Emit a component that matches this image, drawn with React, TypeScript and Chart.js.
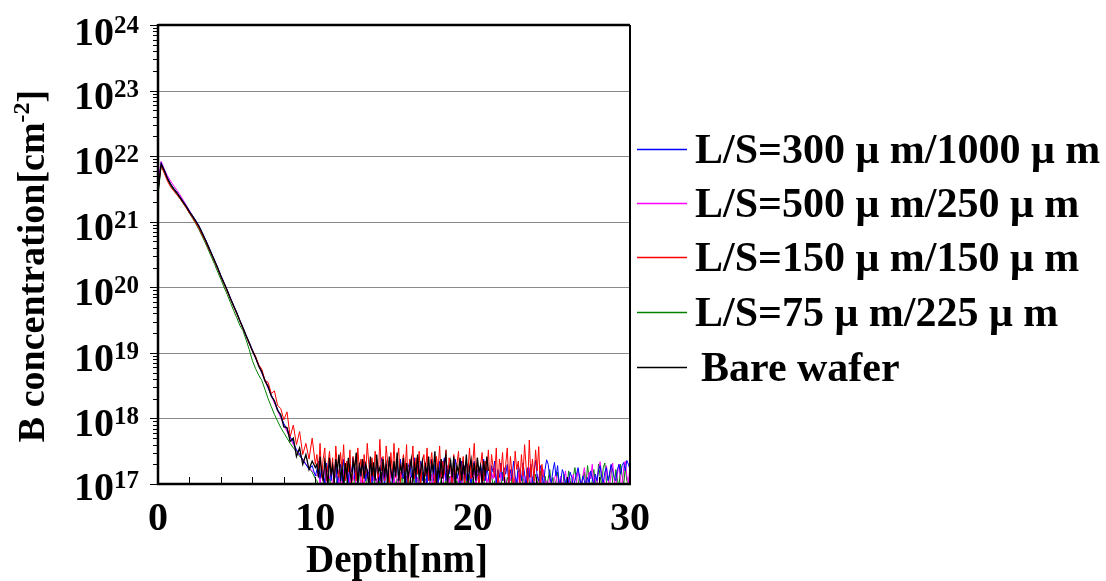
import React, { useEffect, useRef } from 'react';
import { Chart, registerables } from 'chart.js';

Chart.register(...registerables);

// Depth samples (nm): profile part every 0.2 nm up to 10 nm, then every 0.1 nm to 30 nm
const depthHeadNm: number[] = Array.from({ length: 51 }, (_, i) => i / 5);
const depthTailNm: number[] = Array.from({ length: 200 }, (_, i) => (101 + i) / 10);
const depthNm: number[] = [...depthHeadNm, ...depthTailNm];

// log10 of B concentration (profile part, 0–10 nm)
const ls300x1000Head: number[] = [
  21.48, 21.90, 21.79, 21.67, 21.58, 21.51, 21.45, 21.38, 21.31, 21.24,
  21.16, 21.09, 21.02, 20.94, 20.84, 20.74, 20.63, 20.52, 20.41, 20.30,
  20.18, 20.07, 19.96, 19.84, 19.73, 19.62, 19.50, 19.39, 19.27, 19.16,
  19.05, 18.93, 18.82, 18.70, 18.59, 18.47, 18.36, 18.26, 18.14, 18.04,
  17.92, 17.84, 17.72, 17.64, 17.52, 17.46, 17.36, 17.30, 17.22, 17.28,
  17.12,
];
const ls500x250Head: number[] = [
  21.62, 21.92, 21.80, 21.70, 21.62, 21.55, 21.48, 21.41, 21.33, 21.25,
  21.17, 21.09, 21.01, 20.93, 20.83, 20.73, 20.62, 20.51, 20.40, 20.28,
  20.17, 20.06, 19.95, 19.83, 19.72, 19.60, 19.49, 19.37, 19.26, 19.14,
  19.03, 18.92, 18.80, 18.69, 18.57, 18.46, 18.35, 18.23, 18.12, 18.01,
  17.90, 17.80, 17.70, 17.60, 17.52, 17.44, 17.38, 17.30, 17.25, 17.20,
  17.15,
];
const ls150x150Head: number[] = [
  21.50, 21.85, 21.74, 21.62, 21.53, 21.47, 21.41, 21.35, 21.28, 21.21,
  21.13, 21.06, 20.98, 20.90, 20.80, 20.71, 20.60, 20.50, 20.39, 20.28,
  20.16, 20.05, 19.94, 19.83, 19.71, 19.60, 19.49, 19.37, 19.26, 19.14,
  19.04, 18.95, 18.82, 18.75, 18.58, 18.55, 18.38, 18.42, 18.20, 18.15,
  17.98, 18.10, 17.72, 17.90, 17.60, 17.80, 17.45, 17.62, 17.38, 17.70,
  17.30,
];
const ls75x225Head: number[] = [
  21.40, 21.86, 21.75, 21.64, 21.55, 21.48, 21.42, 21.35, 21.28, 21.21,
  21.13, 21.05, 20.97, 20.88, 20.78, 20.68, 20.57, 20.46, 20.35, 20.23,
  20.12, 20.00, 19.89, 19.77, 19.65, 19.54, 19.42, 19.34, 19.20, 19.05,
  18.88, 18.76, 18.66, 18.58, 18.44, 18.30, 18.18, 18.06, 17.96, 17.86,
  17.78, 17.70, 17.62, 17.55, 17.50, 17.42, 17.38, 17.30, 17.25, 17.18,
  17.08,
];
const bareWaferHead: number[] = [
  21.45, 21.88, 21.78, 21.66, 21.57, 21.50, 21.44, 21.37, 21.30, 21.23,
  21.15, 21.08, 21.01, 20.93, 20.83, 20.73, 20.62, 20.51, 20.40, 20.29,
  20.17, 20.06, 19.95, 19.83, 19.72, 19.61, 19.49, 19.38, 19.26, 19.15,
  19.03, 18.93, 18.80, 18.71, 18.57, 18.49, 18.34, 18.27, 18.12, 18.06,
  17.87, 17.86, 17.65, 17.70, 17.42, 17.55, 17.30, 17.45, 17.22, 17.35,
  17.25,
];

// log10 of B concentration, noise floor part (10.1 nm onward, 0.1 nm apart)
const ls300x1000Tail: number[] = [
  17.22, 17.35, 17.08, 17.28, 17.15, 17.02, 17.32, 17.18, 17.40, 17.05,
  17.25, 17.12, 17.36, 16.98, 17.20, 17.30, 17.05, 17.38, 17.15, 17.22,
  17.02, 17.30, 17.18, 17.40, 17.08, 17.25, 16.95, 17.32, 17.12, 17.28,
  17.35, 17.05, 17.22, 17.15, 17.38, 17.00, 17.28, 17.10, 17.32, 17.18,
  17.05, 17.40, 17.20, 16.98, 17.30, 17.12, 17.35, 17.22, 17.02, 17.28,
  17.15, 17.32, 17.05, 17.38, 17.20, 17.08, 17.30, 16.95, 17.25, 17.35,
  17.10, 17.22, 17.40, 17.02, 17.28, 17.15, 17.35, 17.05, 17.20, 17.32,
  16.98, 17.25, 17.12, 17.38, 17.05, 17.30, 17.18, 17.02, 17.35, 17.10,
  17.28, 17.40, 17.05, 17.22, 17.15, 17.32, 16.95, 17.25, 17.38, 17.08,
  17.20, 17.02, 17.35, 17.15, 17.28, 17.05, 17.30, 17.18, 16.98, 17.25,
  17.35, 17.10, 17.22, 17.02, 17.30, 17.15, 17.38, 17.05, 17.25, 17.12,
  16.95, 17.28, 17.18, 17.35, 17.02, 17.22, 17.10, 17.32, 17.05, 17.25,
  17.15, 17.30, 16.98, 17.22, 17.08, 17.35, 17.12, 17.02, 17.28, 17.18,
  17.05, 17.32, 17.15, 16.95, 17.25, 17.10, 17.30, 17.02, 17.20, 17.36,
  17.12, 17.05, 17.28, 17.15, 16.98, 17.22, 17.37, 17.30, 17.10, 17.02,
  17.20, 17.33, 17.12, 17.28, 16.98, 17.05, 17.22, 17.15, 16.95, 17.10,
  17.02, 17.18, 17.10, 16.95, 17.05, 17.15, 17.25, 17.08, 16.98, 17.12,
  17.05, 16.95, 17.10, 17.02, 17.20, 17.08, 16.98, 17.15, 17.05, 17.22,
  17.28, 17.10, 17.02, 17.18, 17.25, 17.05, 17.15, 17.30, 17.20, 17.10,
  17.05, 17.22, 17.30, 17.15, 17.28, 17.33, 17.20, 17.36, 17.30, 17.22,
];
const ls500x250Tail: number[] = [
  17.12, 17.25, 16.98, 17.18, 17.05, 17.28, 16.92, 17.15, 17.08, 17.22,
  16.95, 17.18, 17.10, 17.28, 17.00, 17.15, 16.92, 17.22, 17.05, 17.12,
  17.25, 16.98, 17.15, 17.05, 17.20, 16.90, 17.12, 17.28, 17.02, 17.10,
  16.95, 17.22, 17.08, 17.15, 16.92, 17.25, 17.05, 17.12, 16.98, 17.20,
  17.10, 16.95, 17.25, 17.02, 17.15, 17.08, 16.92, 17.20, 17.12, 17.00,
  17.22, 17.05, 16.95, 17.18, 17.10, 17.28, 16.98, 17.12, 17.05, 17.20,
  16.92, 17.15, 17.25, 17.02, 17.10, 16.95, 17.22, 17.08, 17.18, 16.98,
  17.12, 17.25, 17.00, 17.15, 16.92, 17.20, 17.08, 17.02, 17.25, 17.10,
  16.95, 17.18, 17.05, 17.28, 17.00, 17.12, 16.90, 17.22, 17.08, 17.15,
  17.02, 17.20, 16.95, 17.10, 17.25, 17.05, 17.15, 16.92, 17.18, 17.08,
  17.22, 16.98, 17.12, 17.05, 17.20, 16.92, 17.15, 17.28, 17.02, 17.10,
  16.95, 17.18, 17.08, 17.25, 17.00, 17.12, 16.92, 17.20, 17.05, 17.15,
  17.02, 16.92, 17.15, 17.05, 17.22, 16.95, 17.10, 17.00, 17.18, 16.92,
  17.08, 17.20, 16.95, 17.12, 17.02, 17.25, 16.92, 17.10, 17.05, 16.95,
  17.15, 17.02, 16.92, 17.10, 17.22, 16.98, 17.05, 16.92, 17.12, 17.00,
  16.95, 17.08, 17.18, 16.92, 17.02, 17.12, 16.95, 17.05, 17.20, 16.98,
  17.10, 16.92, 17.05, 17.15, 16.95, 17.02, 17.22, 17.08, 16.92, 17.12,
  17.25, 17.05, 16.95, 17.18, 17.08, 17.30, 16.98, 17.12, 17.02, 17.22,
  17.34, 17.15, 16.95, 17.05, 17.28, 17.10, 16.92, 17.20, 17.32, 17.05,
  16.95, 17.15, 17.30, 17.08, 16.92, 17.25, 17.35, 17.12, 17.02, 17.28,
];
const ls150x150Tail: number[] = [
  17.45, 17.20, 17.62, 17.10, 17.38, 17.55, 17.05, 17.30, 17.50, 17.15,
  17.40, 16.95, 17.58, 17.25, 17.10, 17.48, 17.22, 17.60, 17.05, 17.35,
  17.18, 17.52, 16.92, 17.42, 17.28, 17.05, 17.55, 17.20, 17.38, 17.02,
  17.45, 17.15, 17.62, 17.30, 16.98, 17.40, 17.12, 17.50, 17.25, 17.08,
  17.68, 17.20, 17.42, 17.05, 17.58, 17.32, 16.95, 17.48, 17.15, 17.62,
  17.10, 17.35, 17.55, 17.02, 17.28, 17.45, 17.18, 17.60, 16.92, 17.38,
  17.25, 17.58, 17.08, 17.40, 17.15, 17.50, 16.98, 17.32, 17.45, 17.12,
  17.55, 17.05, 17.30, 17.48, 17.18, 16.95, 17.42, 17.22, 17.58, 17.08,
  17.35, 17.15, 17.52, 17.02, 17.40, 17.28, 16.92, 17.45, 17.12, 17.30,
  17.50, 17.05, 17.25, 17.42, 16.98, 17.35, 17.18, 17.55, 17.08, 17.30,
  17.62, 17.12, 17.40, 16.95, 17.28, 17.48, 17.05, 17.35, 17.20, 17.52,
  17.02, 17.45, 17.25, 17.10, 17.55, 16.92, 17.38, 17.18, 17.48, 17.05,
  17.30, 17.55, 17.00, 17.42, 17.15, 16.95, 17.50, 17.22, 17.35, 17.02,
  17.45, 17.12, 17.60, 17.25, 16.98, 17.67, 17.10, 17.38, 17.05, 17.52,
  17.20, 17.57, 16.95, 17.30, 17.10,
];
const ls75x225Tail: number[] = [
  17.05, 16.95, 16.88, 17.02, 16.90, 17.08, 16.92, 16.88, 17.10, 16.95,
  16.90, 17.05, 16.92, 17.12, 16.88, 17.00, 16.95, 17.08, 16.90, 17.02,
  17.15, 16.92, 17.05, 16.88, 17.10, 16.95, 17.02, 17.18, 16.90, 17.05,
  16.95, 17.12, 16.90, 17.05, 17.00, 16.88, 17.15, 16.95, 17.08, 16.92,
  17.05, 17.18, 16.92, 17.02, 16.88, 17.12, 16.98, 17.05, 16.90, 17.15,
  16.95, 17.08, 17.02, 16.90, 17.20, 16.95, 17.05, 16.88, 17.12, 17.00,
  16.92, 17.15, 17.05, 16.95, 17.10, 16.88, 17.02, 17.18, 16.95, 17.08,
  17.00, 16.90, 17.12, 17.05, 16.92, 17.15, 16.98, 17.08, 16.88, 17.10,
  17.18, 16.95, 17.05, 16.90, 17.12, 17.02, 16.95, 17.20, 16.92, 17.05,
  16.88, 17.10, 17.00, 17.15, 16.92, 17.05, 16.98, 17.12, 16.90, 17.08,
  17.02, 16.92, 17.15, 17.05, 16.88, 17.10, 16.95, 17.18, 17.02, 16.90,
  17.08, 17.15, 16.95, 17.05, 16.90, 17.12, 17.00, 16.92, 17.18, 17.05,
  16.95, 17.10, 17.02, 16.88, 17.15, 16.98, 17.08, 16.92, 17.20, 17.05,
  16.90, 17.12, 17.00, 16.95, 17.18, 17.05, 16.88, 17.10, 16.98, 17.15,
  17.05, 16.92, 17.20, 17.02, 16.90, 17.12, 16.95, 17.08, 17.22, 16.98,
  17.10, 16.92, 17.05, 17.18, 16.95, 17.08, 16.90, 17.15, 17.02, 16.95,
  17.20, 17.05, 16.92, 17.12, 17.25, 17.02, 16.95, 17.15, 16.90, 17.08,
  17.18, 16.95, 17.28, 17.10, 16.92, 17.05, 17.22, 17.02, 16.95, 17.30,
  17.12, 16.98, 17.25, 17.32, 17.05, 16.92, 17.15, 17.28, 17.02, 16.95,
  17.22, 17.08, 16.92, 17.30, 17.12, 16.98, 17.25, 17.05, 16.95, 17.18,
];
const bareWaferTail: number[] = [
  17.30, 17.10, 17.42, 17.18, 17.05, 17.35, 17.22, 16.98, 17.40, 17.15,
  17.28, 17.02, 17.38, 17.20, 17.45, 17.08, 17.25, 16.95, 17.32, 17.12,
  17.40, 17.18, 17.05, 17.35, 17.22, 17.48, 17.00, 17.28, 17.15, 17.38,
  17.08, 17.30, 17.20, 16.95, 17.42, 17.12, 17.33, 17.05, 17.45, 17.18,
  17.25, 17.02, 17.38, 17.15, 17.30, 16.98, 17.42, 17.20, 17.08, 17.35,
  17.12, 17.48, 17.05, 17.28, 17.18, 17.40, 16.95, 17.32, 17.10, 17.25,
  17.38, 17.02, 17.30, 17.15, 17.45, 17.08, 17.22, 17.35, 16.98, 17.28,
  17.15, 17.42, 17.05, 17.32, 17.20, 17.50, 17.00, 17.25, 17.12, 17.38,
  17.08, 17.30, 17.45, 17.02, 17.22, 17.35, 17.10, 17.42, 16.95, 17.28,
  17.18, 17.40, 17.05, 17.30, 17.15, 17.45, 17.00, 17.25, 17.38, 17.10,
  17.32, 17.05, 17.40, 17.18, 17.28, 17.00, 17.35, 17.12, 17.42, 17.20,
];

const seriesNames: string[] = [
  'L/S=300 μ m/1000 μ m',
  'L/S=500 μ m/250 μ m',
  'L/S=150 μ m/150 μ m',
  'L/S=75 μ m/225 μ m',
  'Bare wafer',
];
const seriesColors: string[] = ['#0000ff', '#ff00ff', '#ff0000', '#008000', '#000000'];
const seriesLogs: number[][] = [
  [...ls300x1000Head, ...ls300x1000Tail],
  [...ls500x250Head, ...ls500x250Tail],
  [...ls150x150Head, ...ls150x150Tail],
  [...ls75x225Head, ...ls75x225Tail],
  [...bareWaferHead, ...bareWaferTail],
];
const seriesOrder: number[] = [2, 3, 1, 4, 0];

const yDecadeExponents: number[] = [17, 18, 19, 20, 21, 22, 23, 24];
const xTickLabels: number[] = [0, 10, 20, 30];
const xMinorStep = 2;

const FONT = '"Liberation Serif", "Times New Roman", Times, serif';

const decorPlugin = {
  id: 'decor',
  beforeDatasetsDraw(chart: any) {
    const { ctx, chartArea: a, scales } = chart;
    const y = scales.y;
    ctx.save();
    ctx.strokeStyle = '#8a8a8a';
    ctx.lineWidth = 1;
    for (const e of yDecadeExponents) {
      if (e === yDecadeExponents[0] || e === yDecadeExponents[yDecadeExponents.length - 1]) continue;
      const py = Math.round(y.getPixelForValue(Math.pow(10, e))) + 0.5;
      ctx.beginPath();
      ctx.moveTo(a.left, py);
      ctx.lineTo(a.right, py);
      ctx.stroke();
    }
    ctx.restore();
  },
  afterDatasetsDraw(chart: any) {
    const { ctx, chartArea: a, scales } = chart;
    const x = scales.x;
    const y = scales.y;
    ctx.save();
    ctx.strokeStyle = '#000';
    // frame
    ctx.lineWidth = 2.5;
    ctx.beginPath();
    ctx.moveTo(a.left, a.top);
    ctx.lineTo(a.right, a.top);
    ctx.moveTo(a.left, a.top - 1);
    ctx.lineTo(a.left, a.bottom + 1);
    ctx.moveTo(a.left - 1, a.bottom);
    ctx.lineTo(a.right + 1, a.bottom);
    ctx.stroke();
    ctx.lineWidth = 2;
    ctx.beginPath();
    ctx.moveTo(a.right, a.top);
    ctx.lineTo(a.right, a.bottom);
    ctx.stroke();

    // y ticks (outward, log minor ticks)
    ctx.lineWidth = 1;
    for (let i = 0; i < yDecadeExponents.length; i++) {
      const e = yDecadeExponents[i];
      const py = Math.round(y.getPixelForValue(Math.pow(10, e))) + 0.5;
      ctx.beginPath();
      ctx.moveTo(a.left - 8, py);
      ctx.lineTo(a.left, py);
      ctx.stroke();
      if (i < yDecadeExponents.length - 1) {
        for (let m = 2; m <= 9; m++) {
          const pm = Math.round(y.getPixelForValue(m * Math.pow(10, e))) + 0.5;
          ctx.beginPath();
          ctx.moveTo(a.left - 5, pm);
          ctx.lineTo(a.left, pm);
          ctx.stroke();
        }
      }
    }
    // x ticks (inward)
    for (let v = xMinorStep; v < 30; v += xMinorStep) {
      const px = Math.round(x.getPixelForValue(v)) + 0.5;
      ctx.beginPath();
      ctx.moveTo(px, a.bottom);
      ctx.lineTo(px, a.bottom - 7);
      ctx.stroke();
    }

    ctx.fillStyle = '#000';
    // y tick labels
    for (const e of yDecadeExponents) {
      const py = y.getPixelForValue(Math.pow(10, e));
      const off = e === 17 ? 16 : e === 24 ? 20 : 18;
      ctx.font = `bold 40px ${FONT}`;
      ctx.textAlign = 'right';
      ctx.textBaseline = 'alphabetic';
      ctx.fillText('10', 114, py + off);
      ctx.font = `bold 25px ${FONT}`;
      ctx.textAlign = 'left';
      ctx.fillText(String(e), 114, py + off - 12);
    }
    // x tick labels
    ctx.font = `bold 40px ${FONT}`;
    ctx.textAlign = 'center';
    for (const v of xTickLabels) {
      ctx.fillText(String(v), x.getPixelForValue(v), 530);
    }
    // x title
    ctx.font = `bold 39px ${FONT}`;
    ctx.fillText('Depth[nm]', (a.left + a.right) / 2 + 3, 572);

    // y title (rotated) with superscript
    ctx.save();
    ctx.translate(44, 266);
    ctx.rotate(-Math.PI / 2);
    const mainFont = `bold 38px ${FONT}`;
    const supFont = `bold 24px ${FONT}`;
    const p1 = 'B concentration[cm';
    const p2 = '-2';
    const p3 = ']';
    ctx.font = mainFont;
    const w1 = ctx.measureText(p1).width;
    const w3 = ctx.measureText(p3).width;
    ctx.font = supFont;
    const w2 = ctx.measureText(p2).width;
    const total = w1 + w2 + w3;
    let cx = -total / 2;
    ctx.textAlign = 'left';
    ctx.font = mainFont;
    ctx.fillText(p1, cx, 0);
    cx += w1;
    ctx.font = supFont;
    ctx.fillText(p2, cx, -15);
    cx += w2;
    ctx.font = mainFont;
    ctx.fillText(p3, cx, 0);
    ctx.restore();

    // legend
    const legendY = [149, 203, 257, 312, 367];
    ctx.font = `bold 42px ${FONT}`;
    ctx.textAlign = 'left';
    for (let i = 0; i < seriesNames.length; i++) {
      ctx.strokeStyle = seriesColors[i];
      ctx.lineWidth = 1.5;
      ctx.beginPath();
      ctx.moveTo(637, legendY[i] + 0.5);
      ctx.lineTo(687, legendY[i] + 0.5);
      ctx.stroke();
      ctx.fillStyle = '#000';
      ctx.fillText(seriesNames[i], i === 4 ? 701 : 695, legendY[i] + 14);
    }
    ctx.restore();
  },
};

export default function App() {
  const ref = useRef<HTMLCanvasElement>(null);
  useEffect(() => {
    const datasets = seriesNames.map((name, i) => ({
      label: name,
      data: seriesLogs[i].map((v, j) => ({ x: depthNm[j], y: Math.pow(10, v) })),
      borderColor: seriesColors[i],
      backgroundColor: seriesColors[i],
      borderWidth: i === 4 ? 1.3 : 1,
      pointRadius: 0,
      tension: 0,
      fill: false,
      order: seriesOrder[i],
    }));
    const chart = new Chart(ref.current as HTMLCanvasElement, {
      type: 'line',
      data: { datasets },
      options: {
        animation: false,
        responsive: true,
        maintainAspectRatio: false,
        layout: { padding: { top: 25, right: 476, left: 0, bottom: 0 } },
        plugins: { legend: { display: false }, tooltip: { enabled: false } },
        scales: {
          x: {
            type: 'linear',
            min: 0,
            max: 30,
            grid: { display: false },
            border: { display: false },
            ticks: { display: false },
            afterFit: (s: any) => { s.height = 97; },
          },
          y: {
            type: 'logarithmic',
            min: 1e17,
            max: 1e24,
            grid: { display: false },
            border: { display: false },
            ticks: { display: false },
            afterFit: (s: any) => { s.width = 158; },
          },
        },
      },
      plugins: [decorPlugin],
    } as any);
    return () => chart.destroy();
  }, []);
  return (
    <div style={{ position: 'absolute', left: 0, top: 0, width: 1106, height: 581, background: '#fff' }}>
      <canvas ref={ref} />
    </div>
  );
}
